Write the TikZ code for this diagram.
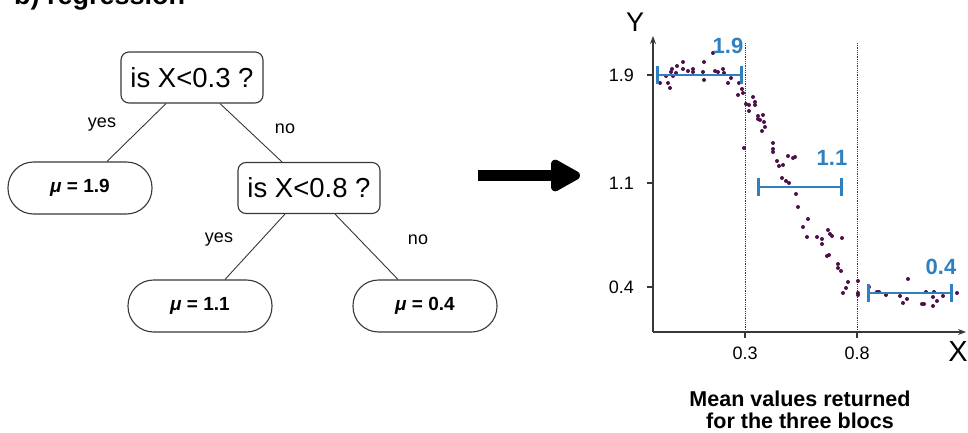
\documentclass[tikz,border=0pt]{standalone}
\usepackage{fontspec}
\setmainfont{Liberation Sans}
\usetikzlibrary{arrows.meta}
\definecolor{barblue}{RGB}{46,128,192}
\definecolor{dotpurple}{RGB}{78,16,72}
\definecolor{edgegray}{RGB}{55,55,55}

\tikzset{
  question/.style={draw=edgegray, line width=1.1pt, rounded corners=8pt,
    minimum width=142pt, minimum height=51pt, inner sep=0pt,
    font=\fontsize{27.5}{30}\selectfont},
  leaf/.style={draw=edgegray, line width=1.1pt, rounded corners=25.5pt,
    minimum width=144pt, minimum height=52pt, inner sep=0pt,
    font=\bfseries\fontsize{19}{21}\selectfont},
  branch/.style={inner sep=0pt, font=\fontsize{18}{20}\selectfont},
  treeedge/.style={edgegray, line width=0.9pt},
  axis/.style={edgegray, line width=1.1pt, -{Stealth[length=8pt,width=6pt]}},
  ticklab/.style={inner sep=0pt, font=\fontsize{18}{20}\selectfont},
  meanbar/.style={barblue, line width=2.6pt, {Bar[width=18pt]}-{Bar[width=18pt]}},
  meanlab/.style={barblue, inner sep=0pt, font=\bfseries\fontsize{22}{24}\selectfont},
}

\begin{document}
\begin{tikzpicture}[x=1pt,y=-1pt]
  \useasboundingbox (0,0) rectangle (968,433);
  \node[anchor=base west, inner sep=0pt, font=\bfseries\fontsize{27}{30}\selectfont] (title) at (14,5) {b) regression};

  % tree
  \node[question] (q1) at (192,77.5) {is X<0.3 ?};
  \node[question] (q2) at (309,188) {is X<0.8 ?};
  \node[leaf] (m19) at (80,188) {\textit{μ} = 1.9};
  \node[leaf] (m11) at (200,306) {\textit{μ} = 1.1};
  \node[leaf] (m04) at (425,306) {\textit{μ} = 0.4};

  \draw[treeedge] ([xshift=-26pt]q1.south) -- ([xshift=27pt]m19.north);
  \draw[treeedge] ([xshift=28pt]q1.south) -- ([xshift=-27pt]q2.north);
  \draw[treeedge] ([xshift=-24pt]q2.south) -- ([xshift=25pt]m11.north);
  \draw[treeedge] ([xshift=26pt]q2.south) -- ([xshift=-27pt]m04.north);

  \node[branch] (yes1) at (102,125) {yes};
  \node[branch] (no1) at (285,129) {no};
  \node[branch] (yes2) at (219,240) {yes};
  \node[branch] (no2) at (418,240) {no};

  % big arrow
  \coordinate (arrS) at (478,175.5);
  \coordinate (arrE) at (580,175.5);
  \draw[line width=11pt, -{Triangle[length=34pt,width=35pt,round]}] (arrS) -- (arrE);

  % plot
  \coordinate (O) at (653,332);
  \coordinate (ytop) at (653,36);
  \coordinate (xend) at (966,332);
  \draw[densely dotted, edgegray, line width=0.8pt] (745,43) -- (745,332);
  \draw[densely dotted, edgegray, line width=0.8pt] (857,43) -- (857,332);
  \draw[axis] (O) -- (ytop);
  \draw[axis] (O) -- (xend);
  \node[inner sep=0pt, font=\fontsize{27}{29}\selectfont] (ylab) at (635,22) {Y};
  \node[inner sep=0pt, font=\fontsize{29}{31}\selectfont] (xlab) at (958,352) {X};

  \foreach \v/\py/\n in {1.9/75/a, 1.1/183/b, 0.4/287/c} {
    \draw[edgegray, line width=1.1pt] (647,\py) -- (653,\py);
    \node[ticklab, anchor=east] (ytick\n) at (634,\py) {\v};
  }
  \foreach \v/\px/\n in {0.3/745/a, 0.8/857/b} {
    \draw[edgegray, line width=1.1pt] (\px,332) -- (\px,338);
    \node[ticklab] (xtick\n) at (\px,353) {\v};
  }

  \foreach \px/\py in {660/83, 666/76, 668/83, 670/88, 671/72, 672/69, 673/76,
      676/73, 677/66, 683/69, 683/62, 688/71, 693/72, 693/69, 703/72, 704/80,
      704/62, 713/53, 715/71, 718/72, 723/69, 724/73, 728/83, 731/78, 739/83,
      742/89, 738/95, 743/93, 746/104, 749/105, 749/111, 753/97, 755/102,
      755/105, 758/116, 763/115, 758/119, 760/120, 764/122, 765/127, 762/131,
      744/148, 773/143, 773/149, 773/152, 777/161, 779/166, 783/165, 788/156,
      793/158, 795/157, 782/178, 786/181, 789/183, 796/194, 798/207, 808/219,
      803/227, 807/237, 817/237, 822/239, 822/244, 828/230, 830/234, 832/236,
      842/238, 827/256, 829/255, 838/264, 838/268, 841/271, 848/282, 846/288,
      843/293, 858/281, 858/293, 858/295, 869/287, 877/292, 879/292, 886/295,
      900/296, 903/303, 907/299, 908/279, 922/304, 924/304, 926/292, 933/306,
      933/297, 934/292, 937/301, 943/296, 957/293}
    \fill[dotpurple] (\px,\py) circle (2pt);

  \draw[meanbar] (656,75) -- (743,75);
  \draw[meanbar] (757,187) -- (843,187);
  \draw[meanbar] (867,293) -- (953,293);
  \node[meanlab] (mean19) at (728,46) {1.9};
  \node[meanlab] (mean11) at (832,158) {1.1};
  \node[meanlab] (mean04) at (941,267) {0.4};

  \node[align=center, inner sep=0pt, font=\bfseries\fontsize{21.5}{22}\selectfont] (caption) at (800,410) {Mean values returned\\for the three blocs};
\end{tikzpicture}
\end{document}
